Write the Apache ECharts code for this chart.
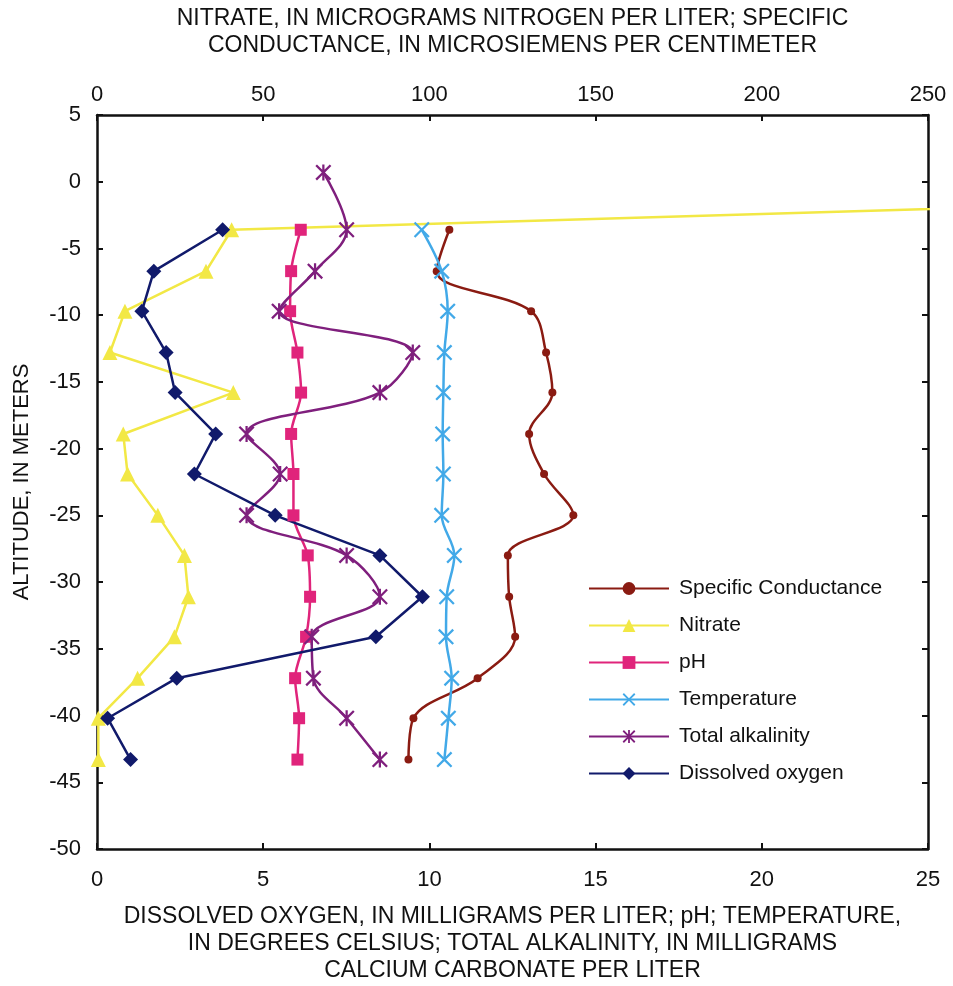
<!DOCTYPE html>
<html style="height: 100%">
<head>
<meta charset="utf-8">
</head>
<body style="height: 100%; margin: 0; background: #fff">
<div id="container" style="width: 953px; height: 986px"></div>
<script src="https://cdn.jsdelivr.net/npm/echarts@6/dist/echarts.min.js"></script>
<script type="text/javascript">
// altitude of each sampling level, in meters
var altitude = [0.7, -3.6, -6.7, -9.7, -12.8, -15.8, -18.9, -21.9, -25.0, -28.0, -31.1, -34.1, -37.2, -40.2, -43.3];

// top axis series (nitrate, specific conductance)
var specCond = [null, 106.0, 102.2, 130.6, 135.1, 137.0, 130.0, 134.5, 143.3, 123.6, 124.0, 125.8, 114.5, 95.2, 93.7];
var nitrate = [620, 40.5, 32.8, 8.4, 3.9, 41.0, 7.9, 9.2, 18.3, 26.3, 27.5, 23.3, 12.2, 0.4, 0.4];

// bottom axis series
var pH = [null, 6.13, 5.84, 5.81, 6.03, 6.14, 5.84, 5.91, 5.91, 6.34, 6.41, 6.29, 5.96, 6.08, 6.03];
var temperature = [null, 9.77, 10.37, 10.55, 10.45, 10.42, 10.40, 10.42, 10.37, 10.75, 10.52, 10.50, 10.67, 10.57, 10.45];
var alkalinity = [6.81, 7.51, 6.56, 5.48, 9.50, 8.51, 4.50, 5.51, 4.50, 7.51, 8.51, 6.46, 6.51, 7.51, 8.51];
var dissolvedOxygen = [null, 3.78, 1.71, 1.35, 2.08, 2.35, 3.57, 2.93, 5.36, 8.51, 9.79, 8.39, 2.40, 0.32, 1.01];

var bottomTicks = [0, 5, 10, 15, 20, 25];
var topTicks = [0, 50, 100, 150, 200, 250];

var FONT = 'Liberation Sans, Arial, sans-serif';

function pairs(values) {
    var out = [];
    values.forEach(function (v, i) {
        if (v !== null) out.push([v, altitude[i]]);
    });
    return out;
}

var crossPath = 'path://M0,1L1,0L5,4L9,0L10,1L6,5L10,9L9,10L5,6L1,10L0,9L4,5Z';
var starPath = 'path://M0,1L1,0L5,4L9,0L10,1L6,5L10,9L9,10L5,6L1,10L0,9L4,5Z M4.3,0L5.7,0L5.7,10L4.3,10Z';

var axisLine = { show: true, onZero: false, lineStyle: { color: '#111', width: 2.5 } };
var axisTick = { show: true, inside: true, length: 6, lineStyle: { color: '#111', width: 2 } };
var labelStyle = { color: '#111', fontSize: 22, fontFamily: FONT };
var nameStyle = { color: '#111', fontSize: 23, fontFamily: FONT, lineHeight: 27 };

var dom = document.getElementById('container');
var myChart = echarts.init(dom);

function line(name, values, axis, color, symbol, size, smooth) {
    return {
        name: name,
        type: 'line',
        xAxisIndex: axis,
        data: pairs(values),
        symbol: symbol,
        symbolSize: size,
        smooth: smooth,
        lineStyle: { color: color, width: 2.5 },
        itemStyle: { color: color },
        animation: false
    };
}

var option = {
    backgroundColor: '#fff',
    grid: { left: 97, right: 25, top: 115, bottom: 137, containLabel: false, outerBoundsMode: 'none' },
    legend: {
        orient: 'vertical',
        left: 583,
        top: 573,
        itemWidth: 80,
        itemHeight: 16,
        itemGap: 16,
        textStyle: { color: '#111', fontSize: 21, fontFamily: FONT, padding: [0, 0, 0, 5] },
        data: ['Specific Conductance', 'Nitrate', 'pH', 'Temperature', 'Total alkalinity', 'Dissolved oxygen']
    },
    xAxis: [{
        type: 'value', position: 'bottom', min: 0, max: 25, interval: 5,
        axisLine: axisLine, axisTick: axisTick, splitLine: { show: false },
        axisLabel: Object.assign({ margin: 20, formatter: function (v) { return bottomTicks.indexOf(v) >= 0 ? v : ''; } }, labelStyle),
        name: 'DISSOLVED OXYGEN, IN MILLIGRAMS PER LITER; pH; TEMPERATURE,\nIN DEGREES CELSIUS; TOTAL ALKALINITY, IN MILLIGRAMS\nCALCIUM CARBONATE PER LITER',
        nameLocation: 'middle', nameGap: 54, nameTextStyle: nameStyle
    }, {
        type: 'value', position: 'top', min: 0, max: 250, interval: 50,
        axisLine: axisLine, axisTick: axisTick, splitLine: { show: false },
        axisLabel: Object.assign({ margin: 9, formatter: function (v) { return topTicks.indexOf(v) >= 0 ? v : ''; } }, labelStyle),
        name: 'NITRATE, IN MICROGRAMS NITROGEN PER LITER; SPECIFIC\nCONDUCTANCE, IN MICROSIEMENS PER CENTIMETER',
        nameLocation: 'middle', nameGap: 56, nameTextStyle: nameStyle
    }],
    yAxis: [{
        type: 'value', position: 'left', min: -50, max: 5, interval: 5,
        axisLine: axisLine, axisTick: axisTick, splitLine: { show: false },
        axisLabel: Object.assign({ margin: 16 }, labelStyle),
        name: 'ALTITUDE, IN METERS', nameLocation: 'middle', nameGap: 64,
        nameTextStyle: { color: '#111', fontSize: 22, fontFamily: FONT }
    }, {
        type: 'value', position: 'right', min: -50, max: 5, interval: 5,
        axisLine: axisLine, axisTick: axisTick, splitLine: { show: false },
        axisLabel: { show: false }
    }],
    series: [
        line('Specific Conductance', specCond, 1, '#8a1b12', 'circle', 8, 0.35),
        line('Nitrate', nitrate, 1, '#f2e845', 'triangle', 15, false),
        line('pH', pH, 0, '#e0247b', 'rect', 12, 0.3),
        line('Temperature', temperature, 0, '#42a9e8', crossPath, 16, 0.35),
        line('Total alkalinity', alkalinity, 0, '#7f1f7d', starPath, 16, 0.35),
        line('Dissolved oxygen', dissolvedOxygen, 0, '#111a6b', 'diamond', 15, false)
    ]
};

myChart.setOption(option);
</script>
</body>
</html>
